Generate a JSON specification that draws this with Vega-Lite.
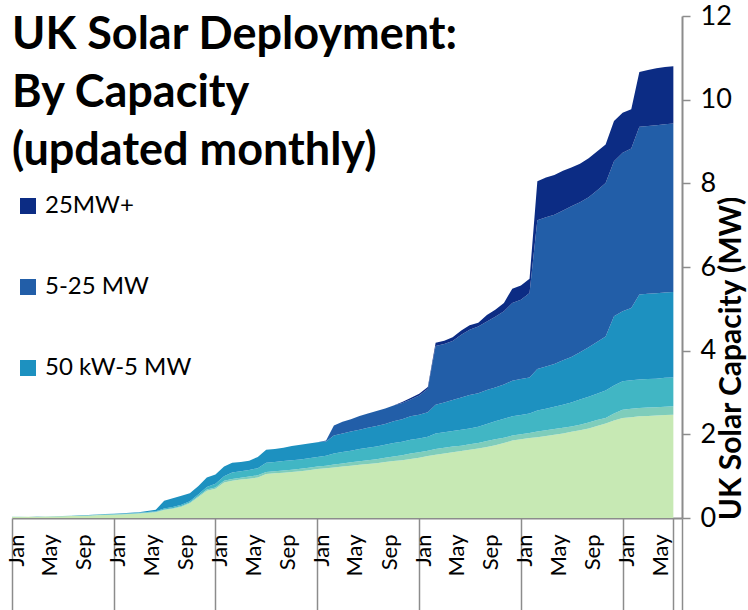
{
  "$schema": "https://vega.github.io/schema/vega-lite/v6.json",
  "width": 670,
  "height": 502,
  "autosize": {"type": "none"},
  "padding": {"left": 12, "top": 16, "right": 66, "bottom": 92},
  "background": "white",
  "config": {"view": {"stroke": null}},
  "title": {
    "text": ["UK Solar Deployment:", "By Capacity", "(updated monthly)"],
    "anchor": "start",
    "frame": "group",
    "font": "Lato",
    "fontSize": 45,
    "fontWeight": "bold",
    "lineHeight": 58,
    "baseline": "top",
    "color": "#000000",
    "offset": 0,
    "dy": 172
  },
  "data": {
    "values": [
      {"date": "2010-01", "0-4 kW": 0.025, "4-10 kW": 0.002, "10-50 kW": 0.002, "50 kW-5 MW": 0.001, "5-25 MW": 0, "25MW+": 0},
      {"date": "2010-02", "0-4 kW": 0.026, "4-10 kW": 0.002, "10-50 kW": 0.002, "50 kW-5 MW": 0.001, "5-25 MW": 0, "25MW+": 0},
      {"date": "2010-03", "0-4 kW": 0.027, "4-10 kW": 0.002, "10-50 kW": 0.002, "50 kW-5 MW": 0.001, "5-25 MW": 0, "25MW+": 0},
      {"date": "2010-04", "0-4 kW": 0.028, "4-10 kW": 0.002, "10-50 kW": 0.002, "50 kW-5 MW": 0.001, "5-25 MW": 0, "25MW+": 0},
      {"date": "2010-05", "0-4 kW": 0.031, "4-10 kW": 0.003, "10-50 kW": 0.003, "50 kW-5 MW": 0.001, "5-25 MW": 0, "25MW+": 0},
      {"date": "2010-06", "0-4 kW": 0.035, "4-10 kW": 0.003, "10-50 kW": 0.003, "50 kW-5 MW": 0.002, "5-25 MW": 0, "25MW+": 0},
      {"date": "2010-07", "0-4 kW": 0.040, "4-10 kW": 0.004, "10-50 kW": 0.004, "50 kW-5 MW": 0.002, "5-25 MW": 0, "25MW+": 0},
      {"date": "2010-08", "0-4 kW": 0.045, "4-10 kW": 0.004, "10-50 kW": 0.004, "50 kW-5 MW": 0.003, "5-25 MW": 0, "25MW+": 0},
      {"date": "2010-09", "0-4 kW": 0.050, "4-10 kW": 0.005, "10-50 kW": 0.005, "50 kW-5 MW": 0.003, "5-25 MW": 0, "25MW+": 0},
      {"date": "2010-10", "0-4 kW": 0.056, "4-10 kW": 0.006, "10-50 kW": 0.006, "50 kW-5 MW": 0.004, "5-25 MW": 0, "25MW+": 0},
      {"date": "2010-11", "0-4 kW": 0.063, "4-10 kW": 0.007, "10-50 kW": 0.007, "50 kW-5 MW": 0.004, "5-25 MW": 0, "25MW+": 0},
      {"date": "2010-12", "0-4 kW": 0.072, "4-10 kW": 0.008, "10-50 kW": 0.008, "50 kW-5 MW": 0.005, "5-25 MW": 0, "25MW+": 0},
      {"date": "2011-01", "0-4 kW": 0.078, "4-10 kW": 0.008, "10-50 kW": 0.009, "50 kW-5 MW": 0.006, "5-25 MW": 0, "25MW+": 0},
      {"date": "2011-02", "0-4 kW": 0.085, "4-10 kW": 0.009, "10-50 kW": 0.010, "50 kW-5 MW": 0.007, "5-25 MW": 0, "25MW+": 0},
      {"date": "2011-03", "0-4 kW": 0.094, "4-10 kW": 0.010, "10-50 kW": 0.011, "50 kW-5 MW": 0.008, "5-25 MW": 0, "25MW+": 0},
      {"date": "2011-04", "0-4 kW": 0.105, "4-10 kW": 0.011, "10-50 kW": 0.012, "50 kW-5 MW": 0.012, "5-25 MW": 0, "25MW+": 0},
      {"date": "2011-05", "0-4 kW": 0.118, "4-10 kW": 0.012, "10-50 kW": 0.014, "50 kW-5 MW": 0.026, "5-25 MW": 0, "25MW+": 0},
      {"date": "2011-06", "0-4 kW": 0.135, "4-10 kW": 0.013, "10-50 kW": 0.016, "50 kW-5 MW": 0.036, "5-25 MW": 0, "25MW+": 0},
      {"date": "2011-07", "0-4 kW": 0.19, "4-10 kW": 0.015, "10-50 kW": 0.02, "50 kW-5 MW": 0.19, "5-25 MW": 0, "25MW+": 0},
      {"date": "2011-08", "0-4 kW": 0.22, "4-10 kW": 0.016, "10-50 kW": 0.024, "50 kW-5 MW": 0.21, "5-25 MW": 0, "25MW+": 0},
      {"date": "2011-09", "0-4 kW": 0.27, "4-10 kW": 0.018, "10-50 kW": 0.027, "50 kW-5 MW": 0.215, "5-25 MW": 0, "25MW+": 0},
      {"date": "2011-10", "0-4 kW": 0.35, "4-10 kW": 0.02, "10-50 kW": 0.03, "50 kW-5 MW": 0.19, "5-25 MW": 0, "25MW+": 0},
      {"date": "2011-11", "0-4 kW": 0.50, "4-10 kW": 0.025, "10-50 kW": 0.04, "50 kW-5 MW": 0.20, "5-25 MW": 0, "25MW+": 0},
      {"date": "2011-12", "0-4 kW": 0.65, "4-10 kW": 0.03, "10-50 kW": 0.06, "50 kW-5 MW": 0.23, "5-25 MW": 0, "25MW+": 0},
      {"date": "2012-01", "0-4 kW": 0.70, "4-10 kW": 0.03, "10-50 kW": 0.09, "50 kW-5 MW": 0.22, "5-25 MW": 0, "25MW+": 0},
      {"date": "2012-02", "0-4 kW": 0.85, "4-10 kW": 0.04, "10-50 kW": 0.11, "50 kW-5 MW": 0.23, "5-25 MW": 0, "25MW+": 0},
      {"date": "2012-03", "0-4 kW": 0.89, "4-10 kW": 0.045, "10-50 kW": 0.155, "50 kW-5 MW": 0.23, "5-25 MW": 0, "25MW+": 0},
      {"date": "2012-04", "0-4 kW": 0.92, "4-10 kW": 0.045, "10-50 kW": 0.155, "50 kW-5 MW": 0.22, "5-25 MW": 0, "25MW+": 0},
      {"date": "2012-05", "0-4 kW": 0.94, "4-10 kW": 0.05, "10-50 kW": 0.16, "50 kW-5 MW": 0.22, "5-25 MW": 0, "25MW+": 0},
      {"date": "2012-06", "0-4 kW": 0.97, "4-10 kW": 0.05, "10-50 kW": 0.17, "50 kW-5 MW": 0.27, "5-25 MW": 0, "25MW+": 0},
      {"date": "2012-07", "0-4 kW": 1.05, "4-10 kW": 0.05, "10-50 kW": 0.22, "50 kW-5 MW": 0.31, "5-25 MW": 0, "25MW+": 0},
      {"date": "2012-08", "0-4 kW": 1.07, "4-10 kW": 0.05, "10-50 kW": 0.22, "50 kW-5 MW": 0.31, "5-25 MW": 0, "25MW+": 0},
      {"date": "2012-09", "0-4 kW": 1.08, "4-10 kW": 0.055, "10-50 kW": 0.225, "50 kW-5 MW": 0.32, "5-25 MW": 0, "25MW+": 0},
      {"date": "2012-10", "0-4 kW": 1.10, "4-10 kW": 0.055, "10-50 kW": 0.225, "50 kW-5 MW": 0.34, "5-25 MW": 0, "25MW+": 0},
      {"date": "2012-11", "0-4 kW": 1.12, "4-10 kW": 0.055, "10-50 kW": 0.225, "50 kW-5 MW": 0.35, "5-25 MW": 0, "25MW+": 0},
      {"date": "2012-12", "0-4 kW": 1.14, "4-10 kW": 0.06, "10-50 kW": 0.23, "50 kW-5 MW": 0.35, "5-25 MW": 0, "25MW+": 0},
      {"date": "2013-01", "0-4 kW": 1.17, "4-10 kW": 0.06, "10-50 kW": 0.23, "50 kW-5 MW": 0.35, "5-25 MW": 0, "25MW+": 0},
      {"date": "2013-02", "0-4 kW": 1.19, "4-10 kW": 0.06, "10-50 kW": 0.24, "50 kW-5 MW": 0.34, "5-25 MW": 0.02, "25MW+": 0},
      {"date": "2013-03", "0-4 kW": 1.21, "4-10 kW": 0.07, "10-50 kW": 0.26, "50 kW-5 MW": 0.43, "5-25 MW": 0.24, "25MW+": 0},
      {"date": "2013-04", "0-4 kW": 1.23, "4-10 kW": 0.075, "10-50 kW": 0.275, "50 kW-5 MW": 0.44, "5-25 MW": 0.28, "25MW+": 0},
      {"date": "2013-05", "0-4 kW": 1.25, "4-10 kW": 0.08, "10-50 kW": 0.28, "50 kW-5 MW": 0.46, "5-25 MW": 0.29, "25MW+": 0},
      {"date": "2013-06", "0-4 kW": 1.27, "4-10 kW": 0.085, "10-50 kW": 0.295, "50 kW-5 MW": 0.46, "5-25 MW": 0.33, "25MW+": 0},
      {"date": "2013-07", "0-4 kW": 1.29, "4-10 kW": 0.09, "10-50 kW": 0.30, "50 kW-5 MW": 0.48, "5-25 MW": 0.34, "25MW+": 0},
      {"date": "2013-08", "0-4 kW": 1.31, "4-10 kW": 0.095, "10-50 kW": 0.305, "50 kW-5 MW": 0.49, "5-25 MW": 0.36, "25MW+": 0},
      {"date": "2013-09", "0-4 kW": 1.34, "4-10 kW": 0.10, "10-50 kW": 0.31, "50 kW-5 MW": 0.50, "5-25 MW": 0.37, "25MW+": 0},
      {"date": "2013-10", "0-4 kW": 1.36, "4-10 kW": 0.11, "10-50 kW": 0.32, "50 kW-5 MW": 0.52, "5-25 MW": 0.38, "25MW+": 0},
      {"date": "2013-11", "0-4 kW": 1.38, "4-10 kW": 0.12, "10-50 kW": 0.32, "50 kW-5 MW": 0.54, "5-25 MW": 0.39, "25MW+": 0.02},
      {"date": "2013-12", "0-4 kW": 1.41, "4-10 kW": 0.13, "10-50 kW": 0.33, "50 kW-5 MW": 0.56, "5-25 MW": 0.40, "25MW+": 0.04},
      {"date": "2014-01", "0-4 kW": 1.44, "4-10 kW": 0.13, "10-50 kW": 0.33, "50 kW-5 MW": 0.57, "5-25 MW": 0.46, "25MW+": 0.04},
      {"date": "2014-02", "0-4 kW": 1.48, "4-10 kW": 0.13, "10-50 kW": 0.33, "50 kW-5 MW": 0.59, "5-25 MW": 0.56, "25MW+": 0.04},
      {"date": "2014-03", "0-4 kW": 1.51, "4-10 kW": 0.14, "10-50 kW": 0.37, "50 kW-5 MW": 0.69, "5-25 MW": 1.40, "25MW+": 0.08},
      {"date": "2014-04", "0-4 kW": 1.54, "4-10 kW": 0.14, "10-50 kW": 0.37, "50 kW-5 MW": 0.71, "5-25 MW": 1.40, "25MW+": 0.08},
      {"date": "2014-05", "0-4 kW": 1.57, "4-10 kW": 0.14, "10-50 kW": 0.37, "50 kW-5 MW": 0.74, "5-25 MW": 1.41, "25MW+": 0.09},
      {"date": "2014-06", "0-4 kW": 1.60, "4-10 kW": 0.13, "10-50 kW": 0.38, "50 kW-5 MW": 0.77, "5-25 MW": 1.50, "25MW+": 0.10},
      {"date": "2014-07", "0-4 kW": 1.63, "4-10 kW": 0.13, "10-50 kW": 0.38, "50 kW-5 MW": 0.80, "5-25 MW": 1.56, "25MW+": 0.11},
      {"date": "2014-08", "0-4 kW": 1.66, "4-10 kW": 0.13, "10-50 kW": 0.39, "50 kW-5 MW": 0.80, "5-25 MW": 1.60, "25MW+": 0.09},
      {"date": "2014-09", "0-4 kW": 1.70, "4-10 kW": 0.14, "10-50 kW": 0.41, "50 kW-5 MW": 0.81, "5-25 MW": 1.64, "25MW+": 0.15},
      {"date": "2014-10", "0-4 kW": 1.74, "4-10 kW": 0.14, "10-50 kW": 0.43, "50 kW-5 MW": 0.81, "5-25 MW": 1.69, "25MW+": 0.17},
      {"date": "2014-11", "0-4 kW": 1.79, "4-10 kW": 0.13, "10-50 kW": 0.45, "50 kW-5 MW": 0.82, "5-25 MW": 1.75, "25MW+": 0.20},
      {"date": "2014-12", "0-4 kW": 1.85, "4-10 kW": 0.12, "10-50 kW": 0.46, "50 kW-5 MW": 0.85, "5-25 MW": 1.86, "25MW+": 0.34},
      {"date": "2015-01", "0-4 kW": 1.88, "4-10 kW": 0.12, "10-50 kW": 0.46, "50 kW-5 MW": 0.86, "5-25 MW": 1.90, "25MW+": 0.34},
      {"date": "2015-02", "0-4 kW": 1.91, "4-10 kW": 0.12, "10-50 kW": 0.47, "50 kW-5 MW": 0.86, "5-25 MW": 2.02, "25MW+": 0.34},
      {"date": "2015-03", "0-4 kW": 1.93, "4-10 kW": 0.14, "10-50 kW": 0.50, "50 kW-5 MW": 0.99, "5-25 MW": 3.56, "25MW+": 0.93},
      {"date": "2015-04", "0-4 kW": 1.96, "4-10 kW": 0.14, "10-50 kW": 0.51, "50 kW-5 MW": 1.01, "5-25 MW": 3.57, "25MW+": 0.95},
      {"date": "2015-05", "0-4 kW": 1.99, "4-10 kW": 0.14, "10-50 kW": 0.53, "50 kW-5 MW": 1.02, "5-25 MW": 3.57, "25MW+": 0.95},
      {"date": "2015-06", "0-4 kW": 2.02, "4-10 kW": 0.14, "10-50 kW": 0.55, "50 kW-5 MW": 1.06, "5-25 MW": 3.58, "25MW+": 0.95},
      {"date": "2015-07", "0-4 kW": 2.06, "4-10 kW": 0.13, "10-50 kW": 0.57, "50 kW-5 MW": 1.09, "5-25 MW": 3.60, "25MW+": 0.93},
      {"date": "2015-08", "0-4 kW": 2.10, "4-10 kW": 0.13, "10-50 kW": 0.60, "50 kW-5 MW": 1.13, "5-25 MW": 3.59, "25MW+": 0.92},
      {"date": "2015-09", "0-4 kW": 2.14, "4-10 kW": 0.14, "10-50 kW": 0.62, "50 kW-5 MW": 1.18, "5-25 MW": 3.59, "25MW+": 0.93},
      {"date": "2015-10", "0-4 kW": 2.20, "4-10 kW": 0.14, "10-50 kW": 0.63, "50 kW-5 MW": 1.24, "5-25 MW": 3.62, "25MW+": 0.93},
      {"date": "2015-11", "0-4 kW": 2.26, "4-10 kW": 0.13, "10-50 kW": 0.66, "50 kW-5 MW": 1.29, "5-25 MW": 3.67, "25MW+": 0.92},
      {"date": "2015-12", "0-4 kW": 2.33, "4-10 kW": 0.17, "10-50 kW": 0.67, "50 kW-5 MW": 1.65, "5-25 MW": 3.71, "25MW+": 0.96},
      {"date": "2016-01", "0-4 kW": 2.39, "4-10 kW": 0.20, "10-50 kW": 0.68, "50 kW-5 MW": 1.67, "5-25 MW": 3.79, "25MW+": 0.96},
      {"date": "2016-02", "0-4 kW": 2.41, "4-10 kW": 0.20, "10-50 kW": 0.68, "50 kW-5 MW": 1.73, "5-25 MW": 3.81, "25MW+": 0.94},
      {"date": "2016-03", "0-4 kW": 2.43, "4-10 kW": 0.20, "10-50 kW": 0.68, "50 kW-5 MW": 2.03, "5-25 MW": 4.01, "25MW+": 1.31},
      {"date": "2016-04", "0-4 kW": 2.44, "4-10 kW": 0.20, "10-50 kW": 0.68, "50 kW-5 MW": 2.04, "5-25 MW": 4.01, "25MW+": 1.34},
      {"date": "2016-05", "0-4 kW": 2.45, "4-10 kW": 0.20, "10-50 kW": 0.68, "50 kW-5 MW": 2.04, "5-25 MW": 4.02, "25MW+": 1.36},
      {"date": "2016-06", "0-4 kW": 2.46, "4-10 kW": 0.20, "10-50 kW": 0.69, "50 kW-5 MW": 2.04, "5-25 MW": 4.02, "25MW+": 1.37},
      {"date": "2016-07", "0-4 kW": 2.47, "4-10 kW": 0.20, "10-50 kW": 0.69, "50 kW-5 MW": 2.04, "5-25 MW": 4.03, "25MW+": 1.37}
    ]
  },
  "transform": [
    {"fold": ["0-4 kW", "4-10 kW", "10-50 kW", "50 kW-5 MW", "5-25 MW", "25MW+"], "as": ["band", "capacity"]},
    {
      "lookup": "band",
      "from": {
        "data": {
          "values": [
            {"band": "0-4 kW", "rank": 1},
            {"band": "4-10 kW", "rank": 2},
            {"band": "10-50 kW", "rank": 3},
            {"band": "50 kW-5 MW", "rank": 4},
            {"band": "5-25 MW", "rank": 5},
            {"band": "25MW+", "rank": 6}
          ]
        },
        "key": "band",
        "fields": ["rank"]
      }
    }
  ],
  "mark": {"type": "area", "interpolate": "linear", "opacity": 1},
  "encoding": {
    "x": {
      "field": "date",
      "timeUnit": "utcyearmonth",
      "type": "temporal",
      "bandPosition": 0.5,
      "scale": {
        "type": "utc",
        "domain": [
          {"year": 2010, "month": 1, "date": 1, "utc": true},
          {"year": 2016, "month": 8, "date": 1, "utc": true}
        ],
        "nice": false
      },
      "axis": {
        "title": null,
        "grid": false,
        "tickCount": {"interval": "month", "step": 1},
        "labelExpr": "utcmonth(datum.value) % 4 === 0 && datum.value < datetime(2016, 6, 1) ? utcFormat(datum.value, '%b') : ''",
        "labelOverlap": false,
        "labelAngle": -90,
        "labelAlign": "right",
        "labelBaseline": "middle",
        "labelFont": "Lato",
        "labelFontSize": 22,
        "labelColor": "#000000",
        "labelOffset": 4,
        "labelPadding": -76,
        "labelFlush": false,
        "tickSize": 92,
        "tickColor": "#8c8c8c",
        "tickWidth": 1.5,
        "tickOpacity": {
          "condition": {"test": "utcmonth(datum.value) === 0 || datum.value >= datetime(2016, 6, 1)", "value": 1},
          "value": 0
        },
        "domainColor": "#8c8c8c",
        "domainWidth": 2
      }
    },
    "y": {
      "field": "capacity",
      "type": "quantitative",
      "stack": "zero",
      "scale": {"domain": [0, 12], "nice": false},
      "axis": {
        "orient": "right",
        "values": [0, 2, 4, 6, 8, 10, 12],
        "grid": false,
        "title": "UK Solar Capacity (MW)",
        "titleFont": "Lato",
        "titleFontSize": 30,
        "titleFontWeight": "bold",
        "titleColor": "#000000",
        "titleAngle": -90,
        "titleAlign": "center",
        "titleBaseline": "middle",
        "titleX": 49,
        "titleY": 342,
        "labelFont": "Lato",
        "labelFontSize": 27,
        "labelColor": "#000000",
        "labelAlign": "left",
        "labelPadding": 10,
        "tickSize": 8,
        "tickColor": "#8c8c8c",
        "tickWidth": 1.5,
        "domainColor": "#8c8c8c",
        "domainWidth": 2
      }
    },
    "order": {"field": "rank", "type": "quantitative", "sort": "ascending"},
    "color": {
      "field": "band",
      "type": "nominal",
      "scale": {
        "domain": ["0-4 kW", "4-10 kW", "10-50 kW", "50 kW-5 MW", "5-25 MW", "25MW+"],
        "range": ["#c7e9b4", "#7fcdbb", "#41b6c4", "#1d91c0", "#225ea8", "#0c2c84"]
      },
      "legend": {
        "title": null,
        "orient": "none",
        "legendX": 4,
        "legendY": 178,
        "values": ["25MW+", "5-25 MW", "50 kW-5 MW"],
        "symbolType": "square",
        "symbolSize": 256,
        "symbolStrokeWidth": 0,
        "symbolOpacity": 1,
        "labelFont": "Lato",
        "labelFontSize": 24,
        "labelColor": "#000000",
        "labelOffset": 5,
        "rowPadding": 57,
        "labelLimit": 300
      }
    }
  }
}
